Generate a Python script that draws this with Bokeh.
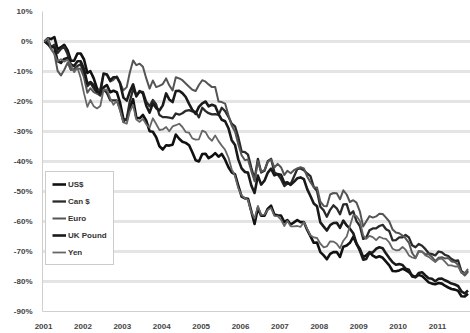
import pandas as pd
from bokeh.plotting import figure
from bokeh.models import (FixedTicker, PrintfTickFormatter, DatetimeTickFormatter,
                          Range1d, Legend, LegendItem)
from bokeh.embed import file_html
from bokeh.resources import INLINE

# ---- data: % change of each currency's value measured in gold, monthly Jan 2001 - Oct 2011
usd = [0, 1.1, 0.8, 1.5, -2.6, -1.9, -1.1, -2.9, -6.4, -6.4, -4.0, -4.0,
       -6.0, -10.5, -9.9, -12.3, -15.6, -17.4, -15.3, -14.5, -16.9, -16.4, -16.9, -20.4,
       -25.8, -26.2, -22.1, -19.2, -25.4, -25.6, -24.5, -26.4, -29.9, -30.1, -31.9, -34.9,
       -36.0, -34.6, -34.7, -34.4, -31.0, -32.4, -33.4, -33.8, -34.6, -36.9, -39.6, -40.0,
       -37.5, -37.4, -38.9, -38.2, -37.2, -38.4, -37.5, -39.4, -41.9, -43.6, -44.3, -48.0,
       -51.7, -52.3, -52.4, -56.6, -60.8, -55.5, -58.1, -58.1, -55.7, -54.7, -57.7, -57.9,
       -58.0, -60.2, -59.5, -61.0, -60.3, -59.5, -60.2, -60.2, -62.8, -64.9, -67.1, -67.0,
       -70.2, -71.3, -72.6, -70.8, -70.2, -70.2, -71.8, -68.4, -68.0, -67.1, -65.1, -67.5,
       -69.1, -71.9, -71.3, -70.2, -71.4, -72.0, -71.6, -72.1, -73.4, -74.6, -76.5, -76.6,
       -76.3, -75.8, -76.2, -76.9, -78.0, -78.5, -77.8, -78.2, -79.2, -80.3, -80.7, -80.9,
       -80.5, -80.7, -81.4, -82.0, -82.5, -82.7, -83.1, -84.9, -85.0, -84.1]

cad = [0, 0.5, -1.8, -1.1, -3.8, -2.5, -1.8, -4.2, -9.3, -9.3, -8.2, -7.6,
       -10.7, -14.9, -13.8, -15.6, -17.2, -18.0, -15.9, -17.2, -19.6, -19.6, -19.6, -22.5,
       -26.7, -25.7, -20.0, -15.9, -17.8, -16.8, -16.8, -20.1, -21.6, -19.5, -21.0, -24.5,
       -25.2, -25.2, -25.4, -25.6, -24.0, -24.4, -23.9, -23.1, -22.9, -23.3, -23.5, -25.3,
       -22.1, -23.2, -23.9, -24.3, -24.2, -24.5, -22.1, -23.2, -25.1, -27.4, -28.3, -31.9,
       -36.7, -36.9, -37.7, -42.1, -45.8, -39.1, -43.7, -43.1, -39.9, -39.1, -43.6, -44.3,
       -45.9, -48.2, -47.4, -47.5, -45.1, -42.5, -42.3, -42.9, -44.0, -44.9, -48.5, -49.8,
       -55.1, -56.3, -58.4, -56.1, -54.6, -55.6, -57.6, -54.3, -54.2, -57.6, -56.6, -59.9,
       -61.5, -65.8, -65.4, -62.9, -62.3, -62.3, -61.5, -61.1, -62.6, -63.2, -66.3, -66.2,
       -65.3, -65.3, -64.5, -65.3, -67.9, -68.6, -67.5, -68.1, -69.2, -70.6, -70.9, -71.3,
       -70.0, -70.3, -71.1, -71.5, -72.5, -73.1, -73.0, -76.6, -77.3, -76.3]

eur = [0, -1.0, -2.5, -3.9, -9.8, -11.3, -9.5, -7.1, -9.4, -9.4, -9.1, -9.1,
       -12.0, -17.1, -15.6, -16.9, -17.4, -15.7, -10.8, -10.9, -13.4, -12.8, -11.6, -13.7,
       -16.3, -15.2, -10.4, -6.3, -7.9, -7.4, -8.4, -12.3, -15.7, -13.0, -15.2, -14.8,
       -14.2, -12.3, -14.6, -16.3, -11.9, -12.3, -12.9, -14.0, -15.1, -16.1, -16.5, -14.5,
       -12.9, -13.4, -14.3, -15.2, -15.2, -20.0, -20.2, -20.7, -24.6, -28.0, -30.1, -34.2,
       -37.9, -39.6, -39.3, -43.2, -46.6, -39.9, -43.4, -42.9, -40.1, -39.3, -42.0, -40.8,
       -41.9, -44.5, -43.1, -43.9, -42.9, -42.3, -41.9, -42.3, -45.0, -46.9, -48.6, -48.7,
       -53.4, -54.8, -54.9, -51.0, -50.5, -50.6, -52.6, -49.6, -51.0, -53.5, -52.9, -53.7,
       -56.6, -61.7, -60.0, -58.2, -58.7, -58.3, -57.4, -57.5, -58.7, -60.0, -62.7, -63.7,
       -63.9, -64.7, -65.6, -67.1, -70.5, -72.1, -69.8, -70.1, -70.9, -70.8, -71.8, -73.2,
       -72.1, -71.9, -72.3, -72.2, -73.3, -73.5, -74.4, -77.0, -78.0, -76.8]

gbp = [0, -0.9, -1.9, -1.9, -6.5, -7.1, -5.8, -5.5, -7.6, -8.2, -6.6, -6.6,
       -9.2, -14.1, -13.5, -14.6, -16.7, -16.9, -10.7, -11.0, -13.0, -11.9, -11.9, -13.9,
       -18.7, -19.7, -16.8, -14.3, -18.3, -16.5, -17.3, -21.4, -23.7, -20.6, -22.2, -23.0,
       -21.3, -17.3, -19.3, -20.2, -16.5, -16.4, -17.2, -18.5, -20.8, -22.8, -24.1, -21.8,
       -20.6, -20.0, -21.6, -21.1, -21.5, -24.2, -26.1, -26.6, -28.9, -32.9, -34.5, -39.3,
       -42.3, -43.5, -43.7, -48.0, -50.5, -44.7, -47.7, -46.4, -43.7, -42.4, -44.6, -44.2,
       -44.4, -47.2, -46.9, -47.8, -46.8, -45.6, -45.3, -45.9, -49.2, -51.5, -54.0, -54.9,
       -60.3, -61.7, -63.0, -61.2, -60.5, -60.4, -62.1, -59.7, -61.3, -62.4, -63.9, -67.3,
       -69.7, -72.7, -72.5, -70.4, -70.3, -69.1, -68.6, -68.9, -70.7, -72.2, -73.6, -74.4,
       -74.2, -74.5, -75.7, -76.1, -78.3, -78.6, -77.2, -76.9, -78.0, -78.9, -79.1, -79.9,
       -79.1, -79.0, -79.6, -80.1, -80.7, -81.0, -81.5, -83.3, -84.0, -83.0]

jpy = [0, 1.1, -2.6, -4.2, -6.6, -5.9, -6.7, -6.1, -7.9, -10.2, -8.7, -12.2,
       -17.3, -21.8, -19.5, -21.6, -22.3, -21.5, -16.1, -16.0, -19.0, -21.1, -19.7, -23.1,
       -27.0, -27.4, -23.4, -21.2, -26.0, -26.8, -25.8, -27.6, -28.7, -25.6, -27.5, -29.5,
       -29.3, -28.5, -29.9, -28.3, -27.9, -27.4, -28.5, -30.2, -30.4, -32.3, -32.7, -32.6,
       -29.7, -30.2, -32.0, -33.1, -31.3, -33.2, -34.7, -36.1, -38.7, -42.6, -44.8, -48.9,
       -51.3, -52.3, -52.8, -56.9, -59.0, -54.8, -57.8, -57.7, -56.1, -55.5, -58.1, -58.2,
       -59.4, -61.5, -59.8, -61.6, -61.6, -61.5, -61.8, -60.2, -62.5, -64.6, -65.3, -65.5,
       -67.4, -68.6, -68.3, -66.6, -66.7, -67.4, -68.9, -66.4, -65.0, -61.5, -57.9, -58.2,
       -59.8, -64.6, -65.8, -64.8, -65.2, -66.2, -65.1, -65.6, -65.8, -67.0, -69.1, -69.6,
       -69.5, -68.5, -69.4, -71.3, -72.0, -72.3, -70.1, -70.0, -71.3, -71.8, -72.7, -73.5,
       -72.5, -72.4, -73.4, -74.6, -74.6, -75.0, -75.0, -77.1, -77.3, -75.8]

series_names = ["US$", "Can $", "Euro", "UK Pound", "Yen"]
series_values = [usd, cad, eur, gbp, jpy]
y_ticks = [10, 0, -10, -20, -30, -40, -50, -60, -70, -80, -90]
year_ticks = list(range(2001, 2012))

dates = pd.date_range("2001-01-01", periods=len(usd), freq="MS") + pd.Timedelta(days=10)

colors = ["#111111", "#2a2a2a", "#555555", "#1a1a1a", "#666666"]
widths = [2.6, 2.3, 2.0, 2.6, 1.8]

p = figure(width=470, height=333, output_backend="svg", toolbar_location=None,
           x_axis_type="datetime",
           min_border_left=42, min_border_right=0, min_border_top=11, min_border_bottom=22)
p.x_range = Range1d(pd.Timestamp("2000-12-22"), pd.Timestamp("2011-11-03"))
p.y_range = Range1d(-90, 10)
p.outline_line_color = None
p.background_fill_color = "white"
p.border_fill_color = "white"

items = []
for name, vals, c, w in zip(series_names, series_values, colors, widths):
    r = p.line(dates, vals, line_color=c, line_width=w, line_join="round")
    items.append(LegendItem(label=name, renderers=[r]))

# axes
p.yaxis.ticker = FixedTicker(ticks=y_ticks)
p.yaxis.formatter = PrintfTickFormatter(format="%d%%")
p.xaxis.ticker = FixedTicker(ticks=[pd.Timestamp(f"{y}-01-01").value / 1e6 for y in year_ticks])
p.xaxis.formatter = DatetimeTickFormatter(years="%Y", months="%Y", days="%Y")
for ax in (p.xaxis[0], p.yaxis[0]):
    ax.axis_line_color = "#cfcfcf"
    ax.major_tick_line_color = None
    ax.minor_tick_line_color = None
    ax.major_label_text_font = "Liberation Sans"
    ax.major_label_text_font_size = "8px"
    ax.major_label_text_font_style = "bold"
    ax.major_label_text_color = "#444444"
p.yaxis.major_label_standoff = 4
p.xaxis.major_label_standoff = 6

p.xgrid.grid_line_color = None
p.ygrid.grid_line_color = "#e4e4e4"
p.ygrid.grid_line_width = 3

legend = Legend(items=items, location=(3, 46), orientation="vertical")
legend.border_line_color = "#999999"
legend.border_line_width = 1
legend.background_fill_color = "white"
legend.background_fill_alpha = 1
legend.label_text_font = "Liberation Sans"
legend.label_text_font_size = "8px"
legend.label_text_font_style = "bold"
legend.label_text_color = "#333333"
legend.glyph_width = 14
legend.glyph_height = 12
legend.label_height = 12
legend.label_standoff = 2
legend.spacing = 5
legend.padding = 6
legend.margin = 0
p.add_layout(legend)

open("out.html", "w").write(file_html(p, INLINE))
